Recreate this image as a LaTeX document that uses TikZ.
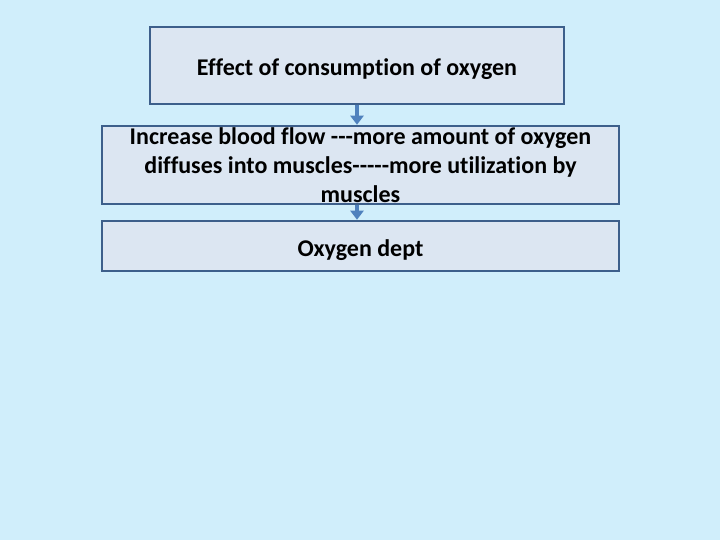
\documentclass[tikz,border=0pt]{standalone}
\usepackage{fontspec}
\setmainfont{Carlito}[Ligatures={TeXOff,NoCommon}]
\usepackage{tikz}
\usetikzlibrary{arrows.meta, positioning}
\definecolor{bgblue}{HTML}{D0EEFB}
\definecolor{boxfill}{HTML}{DCE6F2}
\definecolor{boxline}{HTML}{3D5F8B}
\definecolor{arrowblue}{HTML}{4F81BD}
\tikzstyle{box} = [rectangle, draw=boxline, fill=boxfill, line width=2.5pt, inner sep=0pt, align=center, font=\fontsize{24}{29}\selectfont\bfseries]
\tikzstyle{onebox} = [box, text height=22pt, text depth=2pt]
\tikzstyle{line} = [draw=arrowblue, line width=4pt, -{Triangle[width=13pt, length=9pt]}]

\begin{document}
\begin{tikzpicture}[x=1pt, y=-1pt]
			\fill [bgblue] (0, 0) rectangle (720, 540);
			\useasboundingbox (0, 0) rectangle (720, 540);
			\node [onebox, minimum width=414pt, minimum height=77pt] (effect) at (357, 65.5) {Effect of consumption of oxygen};
			\node [box, minimum width=517pt, minimum height=78pt] (increase) at (360.5, 165) {Increase blood flow ---more amount of oxygen\\diffuses into muscles-----more utilization by\\muscles};
			\node [onebox, minimum width=517pt, minimum height=50pt] (dept) at (360.5, 246) {Oxygen dept};
			
			\path [line] (effect.south) -- (effect.south |- increase.north);
			\path [line] (effect.south |- increase.south) -- (effect.south |- dept.north);
		\end{tikzpicture}
\end{document}
